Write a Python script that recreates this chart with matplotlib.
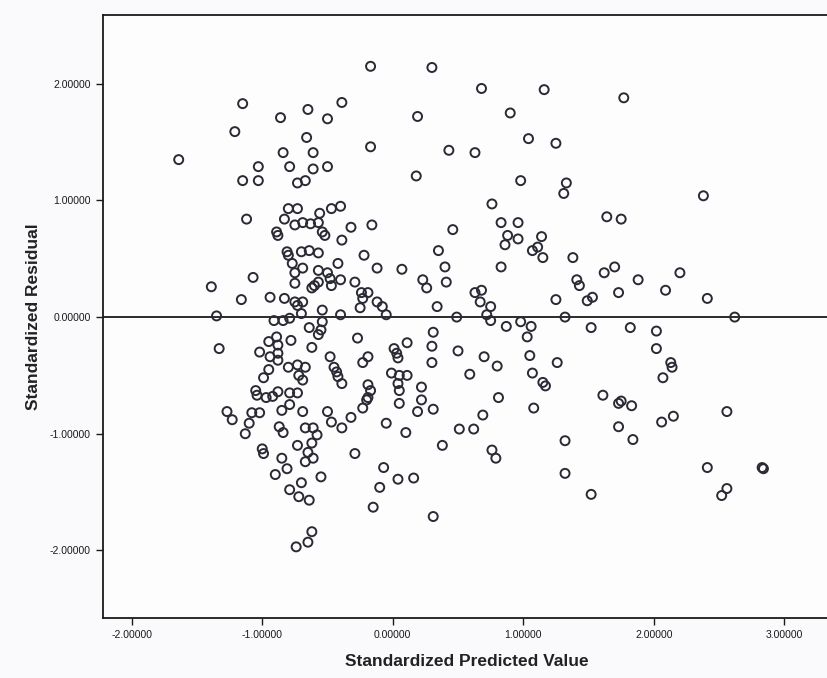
import matplotlib
matplotlib.use("Agg")
import matplotlib.pyplot as plt

# Standardized predicted value (x) and standardized residual (y) for each case
pred = [
    -1.15, -1.21, -1.64, -1.03, -1.15, -1.03, -1.12,
    -0.17, 0.30, -0.39, -0.65, -0.86, -0.50, 0.19, -0.66, -0.17, 0.43,
    -0.84, -0.61, -0.79, -0.61, -0.50, -0.73, -0.67, 0.18, -0.80, -0.73,
    -0.56, -0.47, -0.40, -0.83, -0.75, -0.69, -0.63, -0.57, -0.32, -0.16,
    0.68, 1.16, 0.90, 1.04, 1.25, 0.63, 0.98, 1.33, 1.31, 0.76, 0.83, 0.96, 0.46,
    1.77, 2.38, 1.64, 1.75,
    -0.89, -0.88, -1.07, -1.39, -1.16, -0.94, -1.35, -0.91, -1.33, -0.89,
    -0.95, -1.02, -0.94, -0.88, -0.88, -0.95, -0.99, -1.05, -1.04, -0.92, -0.88,
    -0.54, -0.52, -0.39, -0.81, -0.80, -0.70, -0.64, -0.57, -0.22, 0.35,
    -0.77, -0.69, -0.75, -0.57, -0.50, -0.42, -0.12, 0.07, 0.40, -0.48,
    -0.57, -0.60, -0.62, -0.40, -0.29, -0.47, 0.23, 0.26, 0.41, -0.75,
    -0.83, -0.75, -0.69, -0.73, -0.24, -0.23, -0.19, -0.25, -0.12, -0.08,
    -0.05, 0.34, -0.54, -0.40, -0.84, -0.79, -0.70, -0.54, -0.55, -0.64,
    -0.57, -0.78, -0.88, -0.62, -0.27, 0.31, 0.30, 0.11, 0.01, 0.03,
    -0.48, -0.19, -0.23, 0.30, 0.04, -0.80, -0.73, -0.67, -0.45, -0.43,
    -0.72, -0.69, -0.01, 0.05, 0.11, -0.42, -0.39, -0.19, -0.17, 0.04,
    0.22, -0.79, -0.73, 0.05, -0.19,
    0.88, 0.96, 0.86, 1.14, 1.11, 1.07, 1.15, 1.38, 0.83, 1.62, 1.70,
    1.41, 1.43, 0.63, 0.68, 0.67, 0.75, 1.25, 1.49, 1.53, 1.73, 0.49,
    0.72, 0.75, 0.87, 0.98, 1.06, 1.32, 1.52, 1.03, 0.50, 0.70, 0.80,
    1.05, 1.26, 0.59, 1.07, 1.15, 1.17, 0.81, 1.61,
    1.88, 2.20, 2.09, 2.41, 2.62, 1.82, 2.02, 2.02, 2.13, 2.14, 2.07, 1.75,
    -0.97, -1.27, -1.23, -1.08, -1.02, -1.10, -1.13, -1.00, -0.99,
    -0.79, -0.85, -0.69, -0.50, -0.47, -0.39, -0.32, -0.23, -0.20, -0.05,
    0.05, 0.22, 0.19, 0.31, 0.10, 0.38, -0.87, -0.84, -0.67, -0.61,
    -0.58, -0.73, -0.62, -0.65, -0.61, -0.67, -0.29, -0.85, -0.81, -0.90,
    -0.55, -0.07, 0.04, 0.16, -0.70, -0.79, -0.72, -0.64, -0.10, -0.15,
    0.31, -0.62, -0.65, -0.74,
    1.08, 0.69, 0.51, 0.62, 0.76, 0.79, 1.32, 1.32, 1.52, 1.73, 1.73,
    1.83, 1.84, 2.06, 2.15, 2.56, 2.41, 2.83, 2.84, 2.56, 2.52,
]

resid = [
    1.83, 1.59, 1.35, 1.29, 1.17, 1.17, 0.84,
    2.15, 2.14, 1.84, 1.78, 1.71, 1.70, 1.72, 1.54, 1.46, 1.43,
    1.41, 1.41, 1.29, 1.27, 1.29, 1.15, 1.17, 1.21, 0.93, 0.93,
    0.89, 0.93, 0.95, 0.84, 0.79, 0.81, 0.80, 0.81, 0.77, 0.79,
    1.96, 1.95, 1.75, 1.53, 1.49, 1.41, 1.17, 1.15, 1.06, 0.97, 0.81, 0.81, 0.75,
    1.88, 1.04, 0.86, 0.84,
    0.73, 0.70, 0.34, 0.26, 0.15, 0.17, 0.01, -0.03, -0.27, -0.17,
    -0.21, -0.30, -0.34, -0.31, -0.37, -0.45, -0.52, -0.63, -0.67, -0.68, -0.64,
    0.73, 0.70, 0.66, 0.56, 0.53, 0.56, 0.57, 0.55, 0.53, 0.57,
    0.46, 0.42, 0.38, 0.40, 0.38, 0.46, 0.42, 0.41, 0.43, 0.33,
    0.30, 0.27, 0.25, 0.32, 0.30, 0.27, 0.32, 0.25, 0.30, 0.29,
    0.16, 0.13, 0.13, 0.10, 0.21, 0.16, 0.21, 0.08, 0.13, 0.09,
    0.02, 0.09, 0.06, 0.02, -0.03, -0.01, 0.03, -0.04, -0.11, -0.09,
    -0.15, -0.20, -0.24, -0.26, -0.18, -0.13, -0.25, -0.22, -0.27, -0.31,
    -0.34, -0.34, -0.39, -0.39, -0.35, -0.43, -0.41, -0.43, -0.43, -0.47,
    -0.50, -0.54, -0.48, -0.50, -0.50, -0.51, -0.57, -0.58, -0.63, -0.57,
    -0.60, -0.65, -0.65, -0.63, -0.69,
    0.70, 0.67, 0.62, 0.69, 0.60, 0.57, 0.51, 0.51, 0.43, 0.38, 0.43,
    0.32, 0.27, 0.21, 0.23, 0.13, 0.09, 0.15, 0.14, 0.17, 0.21, 0.00,
    0.02, -0.03, -0.08, -0.04, -0.08, 0.00, -0.09, -0.17, -0.29, -0.34, -0.42,
    -0.33, -0.39, -0.49, -0.48, -0.56, -0.59, -0.69, -0.67,
    0.32, 0.38, 0.23, 0.16, 0.00, -0.09, -0.12, -0.27, -0.39, -0.43, -0.52, -0.72,
    -0.69, -0.81, -0.88, -0.82, -0.82, -0.91, -1.00, -1.13, -1.17,
    -0.75, -0.80, -0.81, -0.81, -0.90, -0.95, -0.86, -0.78, -0.71, -0.91,
    -0.74, -0.71, -0.81, -0.79, -0.99, -1.10, -0.94, -0.99, -0.95, -0.95,
    -1.01, -1.10, -1.08, -1.16, -1.21, -1.24, -1.17, -1.21, -1.30, -1.35,
    -1.37, -1.29, -1.39, -1.38, -1.42, -1.48, -1.54, -1.57, -1.46, -1.63,
    -1.71, -1.84, -1.93, -1.97,
    -0.78, -0.84, -0.96, -0.96, -1.14, -1.21, -1.06, -1.34, -1.52, -0.74, -0.94,
    -0.76, -1.05, -0.90, -0.85, -0.81, -1.29, -1.29, -1.30, -1.47, -1.53,
]

x_ticks = [-2.0, -1.0, 0.0, 1.0, 2.0, 3.0]
y_ticks = [-2.0, -1.0, 0.0, 1.0, 2.0]

W, H = 827, 678
fig = plt.figure(figsize=(W / 100, H / 100), dpi=100)
fig.patch.set_facecolor("#fafafc")

left, right, top, bottom = 103, 830, 15, 618
ax = fig.add_axes([left / W, 1 - bottom / H, (right - left) / W, (bottom - top) / H])
ax.set_facecolor("#fdfdfe")

ax.set_xlim(-2.22, 3.35)
ax.set_ylim(-2.58, 2.59)

ax.axhline(0.0, color="#1a1a1a", linewidth=1.3, zorder=1)

ax.scatter(pred, resid, s=42, facecolors="none", edgecolors="#2a2a35",
           linewidths=1.4, zorder=2)

ax.set_xticks(x_ticks)
ax.set_yticks(y_ticks)
ax.set_xticklabels([f"{v:.5f}" for v in x_ticks])
ax.set_yticklabels([f"{v:.5f}" for v in y_ticks])
ax.tick_params(direction="out", length=5, width=1.0, labelsize=7.5,
               colors="#1a1a1a", pad=4)
for lbl in ax.get_xticklabels() + ax.get_yticklabels():
    lbl.set_family("Liberation Sans")

for side in ("left", "bottom", "top", "right"):
    ax.spines[side].set_linewidth(1.3)
    ax.spines[side].set_color("#1a1a1a")

ax.set_xlabel("Standardized Predicted Value", fontsize=12.5, fontweight="bold",
              family="Liberation Sans", color="#222222", labelpad=10)
ax.set_ylabel("Standardized Residual", fontsize=12.5, fontweight="bold",
              family="Liberation Sans", color="#222222", labelpad=6)

fig.savefig("out.png", dpi=100, facecolor=fig.get_facecolor())
